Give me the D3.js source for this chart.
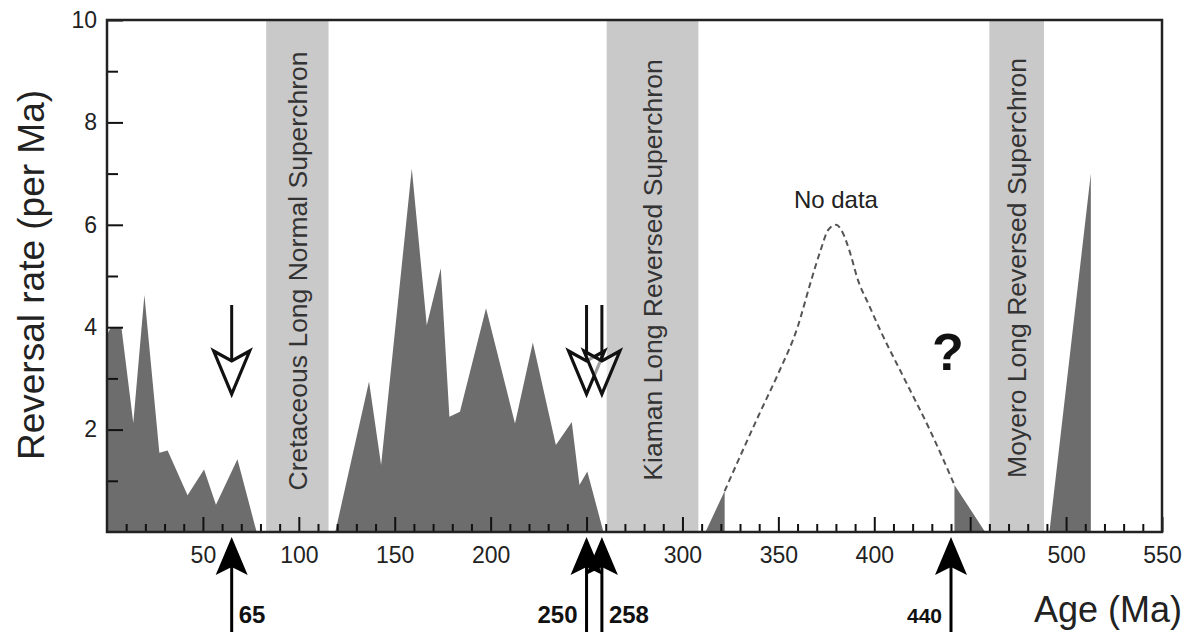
<!DOCTYPE html>
<html>
<head>
<meta charset="utf-8">
<script src="https://cdn.jsdelivr.net/npm/d3@7"></script>
<style>
  body { margin: 0; background: #fff; }
  svg { display: block; font-family: "Liberation Sans", Arial, Helvetica, sans-serif; }
</style>
</head>
<body>
<div id="chart"></div>
<script>
// reversal rate (per Ma) vs age (Ma)
const ages = [0, 2, 7.5, 13.7, 19.5, 27.3, 31.6, 42, 50.6, 56.8, 68, 78,
  119, 136.6, 142.9, 158.9, 166.7, 174, 178.5, 184, 197.6, 212.7, 222, 234, 242.3, 246.3, 250.4, 258.8,
  312, 322, 322,
  441.8, 441.8, 457.8,
  491.3, 512.9, 512.9];
const rates = [3.85, 4.0, 4.0, 2.13, 4.63, 1.55, 1.59, 0.72, 1.22, 0.53, 1.42, 0,
  0, 2.94, 1.31, 7.1, 4.04, 5.15, 2.25, 2.35, 4.37, 2.12, 3.7, 1.7, 2.15, 0.92, 1.18, 0,
  0, 0.8, 0,
  0, 0.92, 0,
  0, 7.0, 0];

// "No data" guess curve
const gapAges = [322, 340, 350, 360, 367, 372, 376, 380, 383.5, 387, 391.5, 397, 403, 416, 429, 441.8];
const gapRates = [0.8, 2.3, 3.1, 4.0, 4.9, 5.5, 5.9, 6.0, 5.85, 5.5, 4.92, 4.45, 3.95, 2.97, 1.99, 0.92];

// superchrons
const chronNames = ["Cretaceous Long Normal Superchron", "Kiaman Long Reversed Superchron", "Moyero Long Reversed Superchron"];
const chronStart = [83, 260.5, 460];
const chronEnd = [115.5, 308.3, 488.5];

// event markers
const eventAges = [65, 250, 258, 440];
const eventLabels = ["65", "250", "258", "440"];
const hollowAges = [65, 250, 258];

// 250 and 450 labels sit under the arrows, so they are not printed
const xMajor = [50, 100, 150, 200, 250, 300, 350, 400, 450, 500, 550];
const xLabelled = [50, 100, 150, 200, 300, 350, 400, 500, 550];
const yMajor = [2, 4, 6, 8, 10];

const width = 1189, height = 632;
const mLeft = 107, mRight = 1162, mTop = 20, mBottom = 532;

const svg = d3.select("#chart").append("svg")
  .attr("width", width)
  .attr("height", height);

const x = d3.scaleLinear().domain([0, 550]).range([mLeft, mRight]);
const y = d3.scaleLinear().domain([0, 10]).range([mBottom, mTop]);

// grey bands
const bands = svg.append("g");
chronNames.forEach((name, i) => {
  bands.append("rect")
    .attr("x", x(chronStart[i]))
    .attr("y", mTop)
    .attr("width", x(chronEnd[i]) - x(chronStart[i]))
    .attr("height", mBottom - mTop)
    .attr("fill", "#c9c9c9");
});

// area
const pts = ages.map((a, i) => [a, rates[i]]);
svg.append("path")
  .datum(pts)
  .attr("fill", "#6d6d6d")
  .attr("d", d3.area().x(d => x(d[0])).y0(y(0)).y1(d => y(d[1])));

// band labels
const labelMid = [271, 270, 268];
chronNames.forEach((name, i) => {
  svg.append("text")
    .attr("transform", `translate(${x((chronStart[i] + chronEnd[i]) / 2)},${labelMid[i]}) rotate(-90)`)
    .attr("text-anchor", "middle")
    .attr("dy", "0.35em")
    .attr("font-size", 26.5)
    .attr("fill", "#333")
    .text(name);
});

// dashed no-data curve
svg.append("path")
  .datum(gapAges.map((a, i) => [a, gapRates[i]]))
  .attr("fill", "none")
  .attr("stroke", "#555")
  .attr("stroke-width", 2)
  .attr("stroke-dasharray", "6,4")
  .attr("d", d3.line().x(d => x(d[0])).y(d => y(d[1])).curve(d3.curveMonotoneX));

svg.append("text")
  .attr("x", x(380))
  .attr("y", 208)
  .attr("text-anchor", "middle")
  .attr("font-size", 24)
  .attr("fill", "#222")
  .text("No data");

svg.append("text")
  .attr("x", 948)
  .attr("y", 370)
  .attr("text-anchor", "middle")
  .attr("font-size", 52)
  .attr("font-weight", "bold")
  .attr("fill", "#111")
  .text("?");

// axes, ticks pointing inward
const xMinor = d3.range(10, 550, 10).filter(v => v % 50 !== 0);
svg.append("g")
  .attr("transform", `translate(0,${mBottom})`)
  .call(d3.axisBottom(x).tickValues(xMinor).tickSize(-8).tickFormat(""))
  .call(g => g.select(".domain").remove())
  .call(g => g.selectAll("line").attr("stroke", "#111").attr("stroke-width", 2));

svg.append("g")
  .attr("transform", `translate(0,${mBottom})`)
  .call(d3.axisBottom(x).tickValues(xMajor).tickSize(-15).tickPadding(15)
    .tickFormat(v => xLabelled.includes(v) ? v : ""))
  .call(g => g.select(".domain").remove())
  .call(g => g.selectAll("line").attr("stroke", "#111").attr("stroke-width", 2))
  .call(g => g.selectAll("text").attr("font-size", 23).attr("fill", "#222").attr("font-family", null));

svg.append("g")
  .attr("transform", `translate(${mLeft},0)`)
  .call(d3.axisLeft(y).tickValues([1, 3, 5, 7, 9]).tickSize(-11).tickFormat(""))
  .call(g => g.select(".domain").remove())
  .call(g => g.selectAll("line").attr("stroke", "#111").attr("stroke-width", 2));

svg.append("g")
  .attr("transform", `translate(${mLeft},0)`)
  .call(d3.axisLeft(y).tickValues(yMajor).tickSize(-16).tickPadding(10))
  .call(g => g.select(".domain").remove())
  .call(g => g.selectAll("line").attr("stroke", "#111").attr("stroke-width", 2))
  .call(g => g.selectAll("text").attr("font-size", 23).attr("fill", "#222").attr("font-family", null));

// frame
svg.append("rect")
  .attr("x", mLeft)
  .attr("y", mTop)
  .attr("width", mRight - mLeft)
  .attr("height", mBottom - mTop)
  .attr("fill", "none")
  .attr("stroke", "#222")
  .attr("stroke-width", 2.5);

// hollow down arrows
hollowAges.forEach(a => {
  const cx = x(a);
  svg.append("line")
    .attr("x1", cx).attr("x2", cx)
    .attr("y1", 305).attr("y2", 360)
    .attr("stroke", "#111").attr("stroke-width", 3);
  svg.append("path")
    .attr("d", `M${cx - 18},351 L${cx},361 L${cx + 18},351 L${cx},394 Z`)
    .attr("fill", "#fff")
    .attr("fill-opacity", 0.6)
    .attr("stroke", "#111")
    .attr("stroke-width", 3.2)
    .attr("stroke-linejoin", "miter");
});

// black up arrows under the axis
eventAges.forEach((a, i) => {
  const cx = x(a);
  svg.append("line")
    .attr("x1", cx).attr("x2", cx)
    .attr("y1", 560).attr("y2", height)
    .attr("stroke", "#000").attr("stroke-width", 3);
  svg.append("path")
    .attr("d", `M${cx},537 L${cx + 16},575 L${cx},567 L${cx - 16},575 Z`)
    .attr("fill", "#000");
  const onRight = (a === 65 || a === 258);
  svg.append("text")
    .attr("x", onRight ? cx + 7 : cx - 9)
    .attr("y", 623)
    .attr("text-anchor", onRight ? "start" : "end")
    .attr("font-size", a === 440 ? 21 : 24)
    .attr("font-weight", "bold")
    .attr("fill", "#111")
    .text(eventLabels[i]);
});

// axis titles
svg.append("text")
  .attr("transform", `translate(44,275) rotate(-90)`)
  .attr("text-anchor", "middle")
  .attr("font-size", 37)
  .attr("fill", "#222")
  .text("Reversal rate (per Ma)");

svg.append("text")
  .attr("x", 1182)
  .attr("y", 622)
  .attr("text-anchor", "end")
  .attr("font-size", 36)
  .attr("fill", "#222")
  .text("Age (Ma)");
</script>
</body>
</html>
